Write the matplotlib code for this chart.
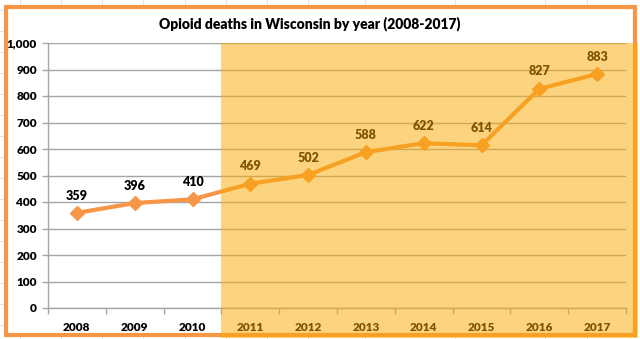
import matplotlib
matplotlib.use("Agg")
import matplotlib.pyplot as plt
from matplotlib.patches import Rectangle
from matplotlib.lines import Line2D

years = ["2008", "2009", "2010", "2011", "2012", "2013", "2014", "2015", "2016", "2017"]
deaths = [359, 396, 410, 469, 502, 588, 622, 614, 827, 883]
y_ticks = [0, 100, 200, 300, 400, 500, 600, 700, 800, 900, 1000]
title = "Opioid deaths in Wisconsin by year (2008-2017)"

W, H = 640, 339
plt.rcParams['font.family'] = ['Lato', 'DejaVu Sans']
fig = plt.figure(figsize=(W / 100, H / 100), dpi=100)
fig.patch.set_facecolor("white")

ax_l, ax_r, ax_t, ax_b = 48, 626, 43, 308
ax = fig.add_axes([ax_l / W, 1 - ax_b / H, (ax_r - ax_l) / W, (ax_b - ax_t) / H])
ax.set_facecolor("white")

x = list(range(len(years)))
ax.plot(x, deaths, color="#F79646", lw=3.0, marker="D", ms=7.5,
        mfc="#F79646", mec="#F79646", zorder=3, solid_joinstyle="round")
for xi, v in zip(x, deaths):
    ax.annotate(f"{v}", (xi, v), xytext=(0, 12.5), textcoords="offset points",
                ha="center", va="center", fontsize=9, fontweight="heavy", color="black")

ax.set_xlim(-0.5, len(years) - 0.5)
ax.set_ylim(0, 1000)
ax.set_yticks(y_ticks)
ax.set_yticklabels([f"{t:,}" for t in y_ticks])
ax.set_xticks(x)
ax.set_xticklabels(years)
ax.set_xticks([i + 0.5 for i in range(-1, len(years))], minor=True)
ax.tick_params(axis="x", which="major", length=0, pad=10, labelsize=8.5)
ax.tick_params(axis="x", which="minor", length=4, color="#A6A6A6", width=1)
ax.tick_params(axis="y", which="major", length=4, color="#A6A6A6", width=1, pad=4, labelsize=8.5)
for lab in ax.get_xticklabels() + ax.get_yticklabels():
    lab.set_fontweight("heavy")
ax.grid(axis="y", color="#A6A6A6", lw=1)
ax.set_axisbelow(True)
for s in ["top", "right"]:
    ax.spines[s].set_visible(False)
for s in ["left", "bottom"]:
    ax.spines[s].set_color("#A6A6A6")
    ax.spines[s].set_linewidth(1)

fig.text(310 / W, 1 - 24 / H, title, ha="center", va="center", fontsize=10, fontweight="heavy")

# spreadsheet grid lines in the margins
for yy in range(10, H, 21):
    fig.add_artist(Line2D([0, 3 / W], [1 - yy / H] * 2, color="#DADADA", lw=0.6, zorder=0))
for xx in [20, 61, 102, 143, 185, 226, 267, 308, 365, 455, 545, 587]:
    fig.add_artist(Line2D([xx / W] * 2, [1, 1 - 4 / H], color="#DADADA", lw=0.6, zorder=0))
    fig.add_artist(Line2D([xx / W] * 2, [0, 2 / H], color="#DADADA", lw=0.6, zorder=0))

# orange chart border
fig.add_artist(Rectangle((5.5 / W, 1 - 335 / H), (635 - 5.5) / W, (335 - 7) / H,
                         transform=fig.transFigure, fill=False, ec="#F79646", lw=3.0, zorder=5))

# highlight overlay
x0 = ax_l + (ax_r - ax_l) * 3 / 10
fig.add_artist(Rectangle((x0 / W, 1 - 337.5 / H), (637.5 - x0) / W, (337.5 - ax_t) / H,
                         transform=fig.transFigure, fc="#FAAA00", ec="none", alpha=0.5, zorder=10))

fig.savefig("out.png", dpi=100)
